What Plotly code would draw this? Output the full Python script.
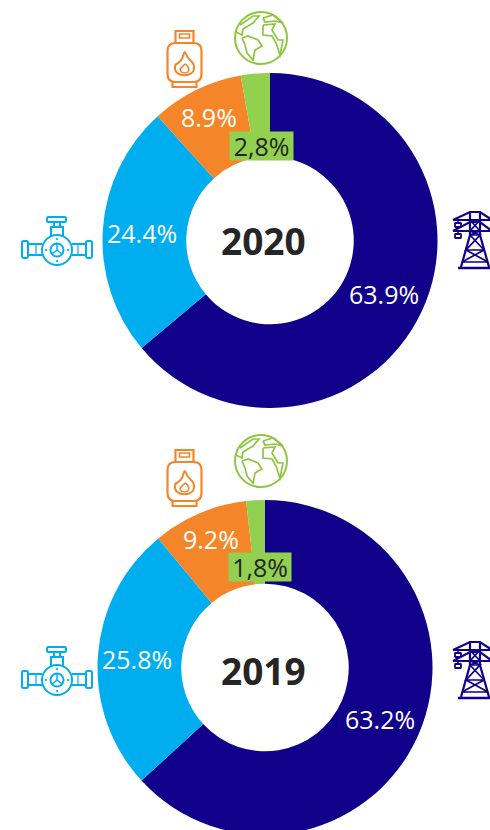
import plotly.graph_objects as go

W, H = 490, 840
FONT = "Open Sans"
categories = ["Electricity", "Natural gas", "LPG", "Other"]
colors = ["#10008A", "#00AEEF", "#F58529", "#92D050"]
values_2020 = [63.9, 24.4, 8.9, 2.8]
values_2019 = [63.2, 25.8, 9.2, 1.8]
small_label_2020 = "2,8%"
small_label_2019 = "1,8%"


def px(x):
    return x / W


def py(y):
    return 1 - y / H


def path_str(segments, ox, oy):
    out = []
    for seg in segments:
        cmd, pts = seg[0], seg[1:]
        if cmd == "Z":
            out.append("Z")
        else:
            out.append(cmd + " ".join(f"{px(ox + a):.5f},{py(oy + b):.5f}" for a, b in pts))
    return " ".join(out)


def poly(pts, close=False):
    segs = [("M", pts[0])] + [("L", p) for p in pts[1:]]
    if close:
        segs.append(("Z",))
    return segs


def smooth(pts):
    n = len(pts)
    mid = lambda a, b: ((a[0] + b[0]) / 2, (a[1] + b[1]) / 2)
    segs = [("M", mid(pts[-1], pts[0]))]
    for i in range(n):
        segs.append(("Q", pts[i], mid(pts[i], pts[(i + 1) % n])))
    segs.append(("Z",))
    return segs


def rrect(x0, y0, x1, y1, r):
    return [("M", (x0 + r, y0)), ("L", (x1 - r, y0)), ("Q", (x1, y0), (x1, y0 + r)),
            ("L", (x1, y1 - r)), ("Q", (x1, y1), (x1 - r, y1)), ("L", (x0 + r, y1)),
            ("Q", (x0, y1), (x0, y1 - r)), ("L", (x0, y0 + r)), ("Q", (x0, y0), (x0 + r, y0)), ("Z",)]


shapes = []


def add_path(segs, ox, oy, color, width=2):
    shapes.append(dict(type="path", xref="paper", yref="paper", path=path_str(segs, ox, oy),
                       line=dict(color=color, width=width), fillcolor="rgba(0,0,0,0)"))


def add_circle(ox, oy, r, color, width=2, fill="rgba(0,0,0,0)"):
    shapes.append(dict(type="circle", xref="paper", yref="paper",
                       x0=px(ox - r), x1=px(ox + r), y0=py(oy + r), y1=py(oy - r),
                       line=dict(color=color, width=width), fillcolor=fill))


def gas_icon(ox, oy):
    c = "#F58529"
    add_path(rrect(-17, -15, 17, 24, 8), ox, oy, c, 2.2)
    add_path(poly([(-9, -15), (-9, -27), (9, -27), (9, -15)]), ox, oy, c, 2.2)
    add_path(poly([(-5, -24), (5, -24), (5, -20), (-5, -20)], True), ox, oy, c, 1.6)
    add_path(poly([(-12, 24), (-12, 29), (12, 29), (12, 24)]), ox, oy, c, 2.2)
    add_path(smooth([(0, -8), (3, 0), (10, 6), (9, 15), (0, 18), (-9, 15), (-10, 7), (-6, 5), (-2, 1)]), ox, oy, c, 2)
    add_path(smooth([(1, 5), (5, 11), (3, 15), (-3, 15), (-5, 11), (-2, 9)]), ox, oy, c, 1.6)


def globe_icon(ox, oy):
    c = "#8DC63F"
    add_circle(ox, oy, 26, c, 2)
    add_path(poly([(-19, 0), (-13, -2), (-3, 2), (1, 8), (-6, 12), (-8, 22), (-14, 15), (-16, 7), (-19, 0)]), ox, oy, c, 1.7)
    add_path(poly([(-21, -13), (-8, -22), (-2, -22), (-8, -15), (-13, -12), (-18, -9), (-19, -3), (-25, -6)]), ox, oy, c, 1.7)
    add_path(poly([(2, -13), (14, -14), (11, -8), (17, 2), (22, 2), (19, 17), (15, 5), (11, -2), (2, -3), (2, -13)]), ox, oy, c, 1.7)
    add_path(poly([(2, -20), (12, -23), (22, -15), (14, -17), (4, -16), (2, -20)]), ox, oy, c, 1.7)


def valve_icon(ox, oy):
    c = "#00AEEF"
    add_circle(ox, oy, 15, c, 2)
    add_circle(ox, oy, 6.5, c, 2)
    for a, b in [(0, -6), (5, 4), (-5, 4)]:
        add_path(poly([(0, 0), (a, b)]), ox, oy, c, 1.5)
    for a, b in [(0, -11), (0, 11), (-11, 0), (11, 0)]:
        add_circle(ox + a, oy + b, 0.7, c, 1, c)
    for s in (-1, 1):
        add_path(poly([(s * 15, -6), (s * 29, -6)]), ox, oy, c)
        add_path(poly([(s * 15, 5), (s * 29, 5)]), ox, oy, c)
        add_path(rrect(min(s * 29, s * 35), -9, max(s * 29, s * 35), 8, 1.5), ox, oy, c)
        add_path(poly([(s * 21, -6), (s * 21, 5)]), ox, oy, c, 1.2)
    add_path(poly([(-6, -13), (-6, -23), (6, -23), (6, -13)]), ox, oy, c)
    add_path(poly([(-3, -23), (-3, -28), (3, -28), (3, -23)]), ox, oy, c)
    add_path(rrect(-10, -33, 9, -28, 1.5), ox, oy, c)


def tower_icon(ox, oy):
    c = "#10008A"
    add_path(poly([(-22, -20), (-5, -28), (5, -28), (17, -20), (-22, -20)]), ox, oy, c, 2.2)
    add_path(poly([(-22, -9), (-5, -18), (5, -18), (17, -9), (-22, -9)]), ox, oy, c, 2.2)
    for y0 in (-20, -9):
        add_path(poly([(-17, y0), (-17, y0 + 3)]), ox, oy, c, 1.6)
        add_path(rrect(-20, y0 + 3, -14, y0 + 7, 0.5), ox, oy, c, 1.8)
    add_path(poly([(-5, -28), (-5, -5), (-14, 27)]), ox, oy, c, 2.2)
    add_path(poly([(5, -28), (5, -5), (14, 27)]), ox, oy, c, 2.2)
    add_path(poly([(-5, -20), (5, -9), (-5, -5), (5, -5), (-9, 10), (9, 10), (-13, 22), (13, 22), (-9, 10)]), ox, oy, c, 1.7)
    add_path(poly([(5, -20), (-5, -9), (5, -5)]), ox, oy, c, 1.7)
    add_path(poly([(9, 10), (-5, -5)]), ox, oy, c, 1.7)
    add_path(poly([(-17, 28), (17, 28)]), ox, oy, c, 2.6)


def pie(values, cx, cy, r=167.5):
    return go.Pie(
        labels=categories,
        values=values,
        textinfo="none",
        hole=0.5,
        sort=False,
        direction="clockwise",
        rotation=0,
        marker=dict(colors=colors, line=dict(width=0)),
        hoverinfo="none",
        showlegend=False,
        domain=dict(x=[px(cx - r), px(cx + r)], y=[py(cy + r), py(cy - r)]),
    )


def annot(text, x, y, size, color, bold=False, bg=None, **kw):
    return dict(text=f"<b>{text}</b>" if bold else text, x=px(x), y=py(y), xref="paper", yref="paper",
                showarrow=False, xanchor="center", yanchor="middle", align="center", valign="middle",
                font=dict(family=FONT, size=size, color=color), bgcolor=bg, **kw)


annotations = [
    annot("2020", 263.5, 241, 37, "#252525", True),
    annot("2019", 263.5, 670, 37, "#252525", True),
    annot(small_label_2020, 261, 146, 25, "#252525", bg="#92D050", borderpad=0, width=63, height=28),
    annot(small_label_2019, 260, 567, 25, "#252525", bg="#92D050", borderpad=0, width=62, height=28),
]

positions_2020 = [(384, 294), (142, 233), (209, 117)]
positions_2019 = [(380, 719), (137, 659), (211, 539)]
for vals, pos in ((values_2020, positions_2020), (values_2019, positions_2019)):
    for v, (x, y) in zip(vals, pos):
        annotations.append(annot(f"{v:.1f}%", x, y, 25, "white"))

for gy, gly, vy, ty in [(58, 38, 250, 240), (477, 461, 680, 670)]:
    gas_icon(184.5, gy)
    globe_icon(261, gly)
    valve_icon(57, vy)
    tower_icon(475, ty)

fig = go.Figure([pie(values_2020, 270, 240.5), pie(values_2019, 265, 667.5)])
fig.update_layout(
    width=W, height=H, margin=dict(l=0, r=0, t=0, b=0),
    paper_bgcolor="white", plot_bgcolor="white",
    shapes=shapes, annotations=annotations,
    font=dict(family=FONT),
)
fig.write_html("out.html", config=dict(displayModeBar=False),
               post_script="document.body.style.margin='0';document.body.style.overflow='hidden';document.documentElement.style.overflow='hidden';")
